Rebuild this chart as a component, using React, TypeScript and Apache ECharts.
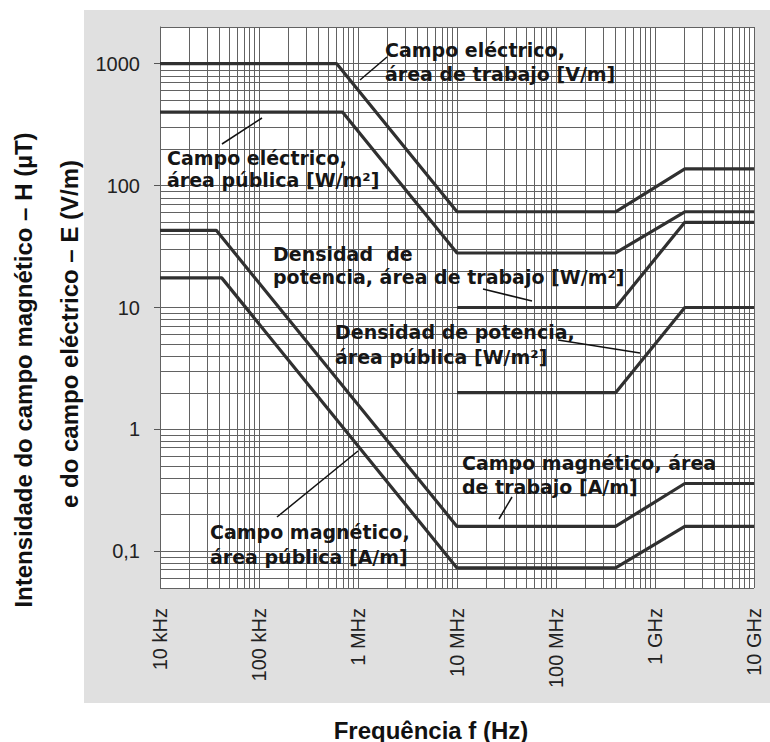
import React, { useEffect, useRef } from 'react';
import * as echarts from 'echarts';

// ---- axis ticks ----
const xTickFreqs = [1e4, 1e5, 1e6, 1e7, 1e8, 1e9, 1e10];
const xTickLabels = ['10 kHz', '100 kHz', '1 MHz', '10 MHz', '100 MHz', '1 GHz', '10 GHz'];
const yTickValues = [0.1, 1, 10, 100, 1000];
const yTickLabels = ['0,1', '1', '10', '100', '1000'];
const yMinValue = 0.05;
const yMaxValue = 2000;

// ---- series (frequency in Hz, value) ----
const eWorkFreq = [1e4, 6.1e5, 1e7, 4e8, 2e9, 1e10];
const eWorkVal = [1000, 1000, 61, 61, 137, 137];
const ePublicFreq = [1e4, 7e5, 1e7, 4e8, 2e9, 1e10];
const ePublicVal = [400, 400, 28, 28, 61, 61];
const sWorkFreq = [1e7, 4e8, 2e9, 1e10];
const sWorkVal = [10, 10, 50, 50];
const sPublicFreq = [1e7, 4e8, 2e9, 1e10];
const sPublicVal = [2, 2, 10, 10];
const hWorkFreq = [1e4, 3.7e4, 1e7, 4e8, 2e9, 1e10];
const hWorkVal = [43, 43, 0.16, 0.16, 0.36, 0.36];
const hPublicFreq = [1e4, 4.2e4, 1e7, 4e8, 2e9, 1e10];
const hPublicVal = [17.5, 17.5, 0.073, 0.073, 0.16, 0.16];

// grid mantissas for log paper
const gridMantissas = [1, 2, 3, 4, 5, 6, 7, 8, 9];
const xDecades = [4, 5, 6, 7, 8, 9, 10];
const yDecades = [-2, -1, 0, 1, 2, 3];

const lg = (v: number) => Math.log10(v);

function buildGridValues(decades: number[], lo: number, hi: number) {
  const out: number[] = [];
  decades.forEach((d) => {
    gridMantissas.forEach((m) => {
      const v = m * Math.pow(10, d);
      if (v >= lo * 0.9999 && v <= hi * 1.0001) out.push(lg(v));
    });
  });
  return out;
}

const annotationFont = 'bold 19px "DejaVu Sans"';
const annotationColor = '#161616';

export default function App() {
  const ref = useRef<HTMLDivElement>(null);

  useEffect(() => {
    if (!ref.current) return;
    const chart = echarts.init(ref.current, undefined, { renderer: 'svg' });

    const curveStyle = { color: '#303030', width: 3.2 };
    const mk = (name: string, f: number[], v: number[]) => ({
      name,
      type: 'line',
      data: f.map((fx, i) => [lg(fx), lg(v[i])]),
      showSymbol: false,
      symbol: 'none',
      lineStyle: curveStyle,
      itemStyle: { color: '#303030' },
      z: 10,
      silent: true,
    });

    const xGrid = buildGridValues(xDecades, 1e4, 1e10);
    const yGrid = buildGridValues(yDecades, yMinValue, yMaxValue);

    const text = (t: string, x: number, y: number) => ({
      type: 'text',
      x,
      y,
      z: 100,
      silent: true,
      style: {
        text: t,
        font: annotationFont,
        fill: annotationColor,
        align: 'left',
        textAlign: 'left',
        verticalAlign: 'middle',
        textVerticalAlign: 'middle',
      },
    });
    const leader = (x1: number, y1: number, x2: number, y2: number) => ({
      type: 'line',
      z: 100,
      silent: true,
      shape: { x1, y1, x2, y2 },
      style: { stroke: '#111', lineWidth: 1.5 },
    });
    const titleText = (t: string, x: number, y: number, rotation: number) => ({
      type: 'text',
      x,
      y,
      rotation,
      z: 100,
      silent: true,
      style: {
        text: t,
        font: 'bold 24px "Liberation Sans", Arial, sans-serif',
        fill: '#111',
        align: 'center',
        textAlign: 'center',
        verticalAlign: 'middle',
        textVerticalAlign: 'middle',
      },
    });

    chart.setOption({
      animation: false,
      grid: {
        left: 160,
        right: 16,
        top: 27,
        bottom: 154,
        show: true,
        backgroundColor: '#ffffff',
        borderWidth: 0,
      },
      xAxis: {
        type: 'value',
        min: lg(1e4),
        max: lg(1e10),
        interval: 1,
        axisLine: { show: true, lineStyle: { color: '#555', width: 1 } },
        axisTick: { show: true, length: 6, lineStyle: { color: '#555' } },
        splitLine: { show: false },
        axisLabel: {
          rotate: 90,
          margin: 20,
          fontSize: 20,
          fontFamily: '"Liberation Sans", Arial, sans-serif',
          color: '#222',
          formatter: (v: number) => {
            const i = xTickFreqs.findIndex((f) => Math.abs(lg(f) - v) < 1e-6);
            return i >= 0 ? xTickLabels[i] : '';
          },
        },
      },
      yAxis: {
        type: 'value',
        min: lg(yMinValue),
        max: lg(yMaxValue),
        axisLine: { show: true, lineStyle: { color: '#555', width: 1 } },
        axisTick: {
          show: true,
          length: 6,
          lineStyle: { color: '#555' },
          customValues: yTickValues.map(lg),
        },
        splitLine: { show: false },
        axisLabel: {
          margin: 20,
          fontSize: 20,
          fontFamily: '"Liberation Sans", Arial, sans-serif',
          color: '#222',
          customValues: yTickValues.map(lg),
          formatter: (v: number) => {
            const i = yTickValues.findIndex((t) => Math.abs(lg(t) - v) < 1e-6);
            return i >= 0 ? yTickLabels[i] : '';
          },
        },
      },
      series: [
        {
          name: 'grid',
          type: 'line',
          data: [],
          silent: true,
          z: 2,
          markLine: {
            silent: true,
            symbol: ['none', 'none'],
            label: { show: false },
            lineStyle: { color: '#626262', width: 1, type: 'solid' },
            emphasis: { disabled: true },
            animation: false,
            data: [
              ...xGrid.map((v) => ({ xAxis: v })),
              ...yGrid.map((v) => ({ yAxis: v })),
            ],
          },
        },
        mk('Campo eléctrico, área de trabajo [V/m]', eWorkFreq, eWorkVal),
        mk('Campo eléctrico, área pública', ePublicFreq, ePublicVal),
        mk('Densidad de potencia, área de trabajo [W/m²]', sWorkFreq, sWorkVal),
        mk('Densidad de potencia, área pública [W/m²]', sPublicFreq, sPublicVal),
        mk('Campo magnético, área de trabajo [A/m]', hWorkFreq, hWorkVal),
        mk('Campo magnético, área pública [A/m]', hPublicFreq, hPublicVal),
      ],
      graphic: [
        {
          type: 'rect',
          z: -10,
          silent: true,
          shape: { x: 84, y: 10, width: 686, height: 693 },
          style: { fill: '#e0e0e0' },
        },
        text('Campo eléctrico,', 385, 50),
        text('área de trabajo [V/m]', 385, 74),
        leader(360, 80, 387, 57),
        text('Campo eléctrico,', 167, 158),
        text('área pública [W/m²]', 167, 180),
        leader(222, 144, 262, 118),
        text('Densidad  de', 273, 254),
        text('potencia, área de trabajo [W/m²]', 273, 277),
        leader(483, 289, 532, 301),
        text('Densidad de potencia,', 335, 332),
        text('área pública [W/m²]', 335, 357),
        leader(558, 340, 640, 353),
        text('Campo magnético, área', 462, 463),
        text('de trabajo [A/m]', 462, 487),
        leader(512, 497, 499, 519),
        text('Campo magnético,', 210, 532),
        text('área pública [A/m]', 210, 557),
        leader(277, 517, 358, 451),
        titleText('Intensidade do campo magnético – H (µT)', 23, 370, Math.PI / 2),
        titleText('e do campo eléctrico – E (V/m)', 69, 334, Math.PI / 2),
        titleText('Frequência f (Hz)', 431, 730, 0),
      ],
    });

    return () => chart.dispose();
  }, []);

  return (
    <div
      ref={ref}
      style={{ position: 'absolute', left: 0, top: 0, width: 770, height: 742 }}
    />
  );
}
